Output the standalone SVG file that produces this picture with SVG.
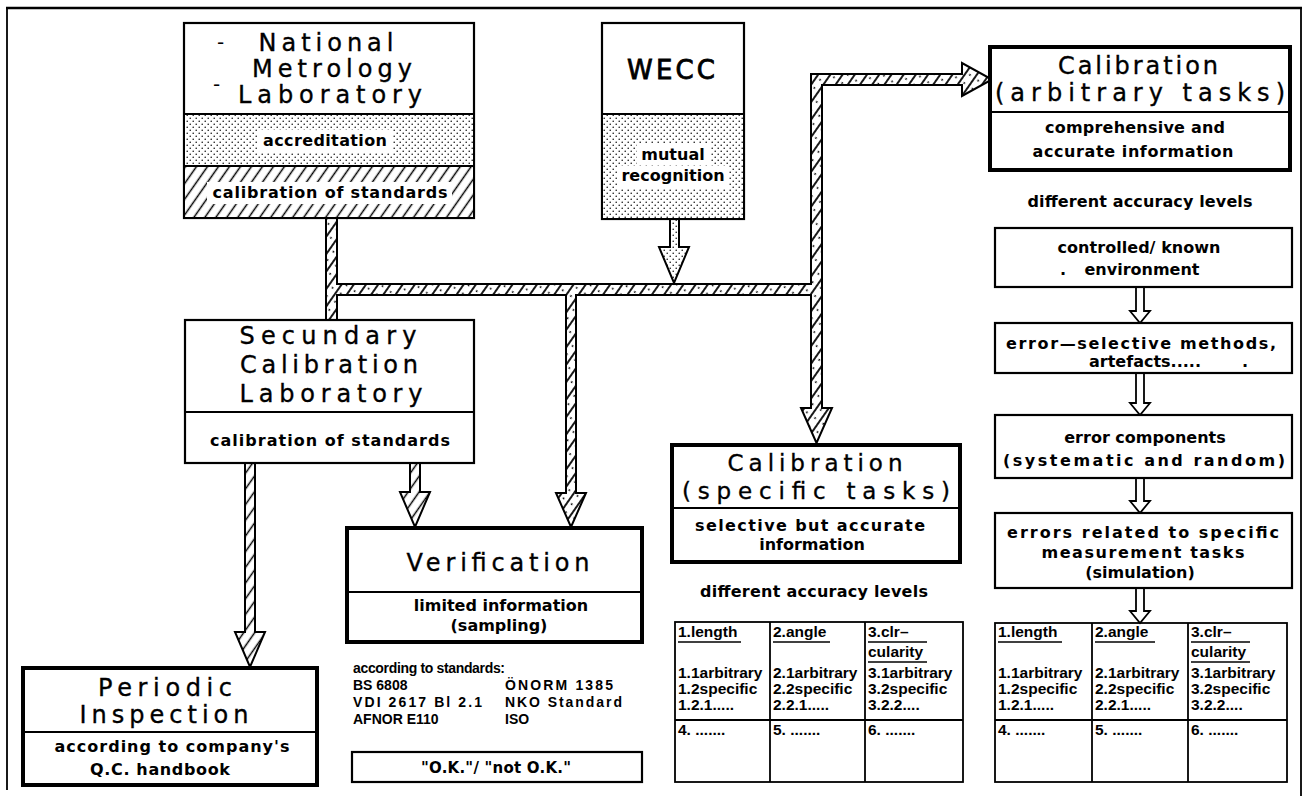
<svg xmlns="http://www.w3.org/2000/svg" width="1313" height="796" viewBox="0 0 1313 796">
<defs>
<pattern id="dots" patternUnits="userSpaceOnUse" width="6" height="6"><rect width="6" height="6" fill="#fff"/><circle cx="1.2" cy="1.2" r="0.75" fill="#000"/><circle cx="4.2" cy="4.2" r="0.75" fill="#000"/></pattern>
<pattern id="hatch" patternUnits="userSpaceOnUse" width="9" height="9" patternTransform="rotate(35)"><rect width="9" height="9" fill="#fff"/><line x1="4.5" y1="0" x2="4.5" y2="9" stroke="#000" stroke-width="1.5"/></pattern>
<pattern id="mix" patternUnits="userSpaceOnUse" width="10" height="10" patternTransform="rotate(35)"><rect width="10" height="10" fill="#fff"/><line x1="3" y1="0" x2="3" y2="10" stroke="#000" stroke-width="1.8"/><circle cx="7.5" cy="5" r="0.9" fill="#000"/></pattern>
<style>
text{font-family:"DejaVu Sans","Liberation Sans",Arial,sans-serif;fill:#000}
.ti{font-size:24px;text-anchor:middle;stroke:#000;stroke-width:0.35}
.wb{font-size:26px;text-anchor:middle;stroke:#000;stroke-width:0.8}
.s{font-size:16px;font-weight:bold;text-anchor:middle}
.tb{font-family:"Liberation Sans",Arial,sans-serif;font-size:15.5px;font-weight:bold}
.st{font-family:"Liberation Sans",Arial,sans-serif;font-size:14px;font-weight:bold}
.box{fill:#fff;stroke:#000;stroke-width:2.2}
.thick{fill:#fff;stroke:#000;stroke-width:4}
.ln{stroke:#000;stroke-width:2;fill:none}
.thin{stroke:#000;stroke-width:1.8;fill:none}
.ul{stroke:#000;stroke-width:1.5}
.bar{stroke:#000;stroke-width:2;stroke-linejoin:miter}
.sarrow{fill:#fff;stroke:#000;stroke-width:1.8}
</style>
</defs>
<rect width="1313" height="796" fill="#fff"/>

<g id="frame">
<line x1="6" y1="8" x2="1302" y2="8" stroke="#000" stroke-width="2.5"/>
<line x1="7" y1="8" x2="7" y2="790" stroke="#000" stroke-width="1.8"/>
<line x1="1301" y1="8" x2="1301" y2="796" stroke="#000" stroke-width="1.8"/>
</g>

<g id="connectors">
<path class="bar" fill="url(#mix)" d="M326,218 L337,218 L337,284 L811,284 L811,74 L962,74 L962,63 L992,79.5 L962,96 L962,85 L822,85 L822,408 L832,408 L816.5,443 L801,408 L811,408 L811,295 L576,295 L576,493 L586,493 L571,527 L556,493 L566,493 L566,295 L337,295 L337,320 L326,320 Z"/>
<path class="bar" fill="url(#dots)" d="M670,219 L679,219 L679,247 L689,247 L674,283 L659,247 L670,247 Z"/>
<path class="bar" fill="url(#hatch)" d="M245,463 L255,463 L255,632 L265,632 L250,667 L235,632 L245,632 Z"/>
<path class="bar" fill="url(#hatch)" d="M410,463 L420,463 L420,492 L430,492 L415,527 L400,492 L410,492 Z"/>
<path class="sarrow" d="M1136,287 L1144,287 L1144,311 L1150,311 L1140,323 L1130,311 L1136,311 Z"/>
<path class="sarrow" d="M1136,373 L1144,373 L1144,403 L1150,403 L1140,415 L1130,403 L1136,403 Z"/>
<path class="sarrow" d="M1136,478 L1144,478 L1144,501 L1150,501 L1140,513 L1130,501 L1136,501 Z"/>
<path class="sarrow" d="M1136,588 L1144,588 L1144,611 L1150,611 L1140,623 L1130,611 L1136,611 Z"/>
</g>

<g id="nml">
<rect x="184" y="23" width="290" height="195" class="box"/>
<rect x="184" y="114" width="290" height="52" fill="url(#dots)" stroke="#000" stroke-width="2"/>
<rect x="184" y="166" width="290" height="52" fill="url(#hatch)" stroke="#000" stroke-width="2"/>
<rect x="258" y="130" width="134" height="22" fill="#fff"/>
<rect x="207" y="182" width="245" height="22" fill="#fff"/>
<text x="217" y="49" style="font-size:20px">-</text>
<text x="213" y="91" style="font-size:20px">-</text>
<text class="ti" x="326" y="51" textLength="135" lengthAdjust="spacing">National</text>
<text class="ti" x="332" y="77" textLength="160" lengthAdjust="spacing">Metrology</text>
<text class="ti" x="330" y="103" textLength="184" lengthAdjust="spacing">Laboratory</text>
<text class="s" x="325" y="146" textLength="124" lengthAdjust="spacing">accreditation</text>
<text class="s" x="330" y="198" textLength="235" lengthAdjust="spacing">calibration of standards</text>
</g>

<g id="wecc">
<rect x="602" y="23" width="142" height="196" class="box"/>
<rect x="602" y="114" width="142" height="105" fill="url(#dots)" stroke="#000" stroke-width="2"/>
<rect x="637" y="144" width="73" height="21" fill="#fff"/>
<rect x="617" y="166" width="112" height="22" fill="#fff"/>
<text class="wb" x="671" y="79" textLength="88" lengthAdjust="spacing">WECC</text>
<text class="s" x="673" y="160">mutual</text>
<text class="s" x="673" y="181">recognition</text>
</g>

<g id="cal-arbitrary">
<rect x="990" y="47" width="300" height="123" class="thick"/>
<line x1="990" y1="112" x2="1290" y2="112" class="ln"/>
<text class="ti" x="1138" y="74" textLength="160" lengthAdjust="spacing">Calibration</text>
<text class="ti" x="1140" y="101" textLength="290" lengthAdjust="spacing">(arbitrary tasks)</text>
<text class="s" x="1135" y="133" textLength="180" lengthAdjust="spacing">comprehensive and</text>
<text class="s" x="1133" y="157" textLength="201" lengthAdjust="spacing">accurate information</text>
</g>
<text id="levels-arbitrary" class="s" x="1140" y="207" textLength="225" lengthAdjust="spacing">different accuracy levels</text>

<g id="env">
<rect x="995" y="228" width="297" height="59" class="box"/>
<text class="s" x="1139" y="253" textLength="163" lengthAdjust="spacing">controlled/ known</text>
<text class="s" x="1063" y="275">.</text>
<text class="s" x="1142" y="275">environment</text>
</g>
<g id="methods">
<rect x="995" y="323" width="297" height="50" class="box"/>
<text class="s" x="1141" y="349" textLength="270" lengthAdjust="spacing">error—selective methods,</text>
<text class="s" x="1145" y="367">artefacts.....</text>
<text class="s" x="1245" y="367">.</text>
</g>
<g id="components">
<rect x="995" y="415" width="297" height="63" class="box"/>
<text class="s" x="1145" y="443">error components</text>
<text class="s" x="1144" y="466" textLength="282" lengthAdjust="spacing">(systematic and random)</text>
</g>
<g id="related">
<rect x="995" y="513" width="297" height="75" class="box"/>
<text class="s" x="1143" y="538" textLength="272" lengthAdjust="spacing">errors related to specific</text>
<text class="s" x="1143" y="558" textLength="203" lengthAdjust="spacing">measurement tasks</text>
<text class="s" x="1140" y="578">(simulation)</text>
</g>

<g id="secundary">
<rect x="185" y="320" width="289" height="143" class="box"/>
<line x1="185" y1="412" x2="474" y2="412" class="ln"/>
<text class="ti" x="328" y="344" textLength="177" lengthAdjust="spacing">Secundary</text>
<text class="ti" x="329" y="373" textLength="178" lengthAdjust="spacing">Calibration</text>
<text class="ti" x="331" y="402" textLength="183" lengthAdjust="spacing">Laboratory</text>
<text class="s" x="330" y="446" textLength="240" lengthAdjust="spacing">calibration of standards</text>
</g>

<g id="cal-specific">
<rect x="672" y="445" width="288" height="117" class="thick"/>
<line x1="672" y1="508" x2="960" y2="508" class="ln"/>
<text class="ti" x="815" y="471" style="font-size:23px" textLength="175" lengthAdjust="spacing">Calibration</text>
<text class="ti" x="816" y="499" style="font-size:23px" textLength="268" lengthAdjust="spacing">(specific tasks)</text>
<text class="s" x="810" y="531" textLength="230" lengthAdjust="spacing">selective but accurate</text>
<text class="s" x="812" y="550">information</text>
</g>
<text id="levels-specific" class="s" x="814" y="597" textLength="228" lengthAdjust="spacing">different accuracy levels</text>

<g id="verification">
<rect x="347" y="528" width="295" height="114" class="thick"/>
<line x1="347" y1="592" x2="642" y2="592" class="ln"/>
<text class="ti" x="498" y="571" textLength="183" lengthAdjust="spacing">Verification</text>
<text class="s" x="501" y="611">limited information</text>
<text class="s" x="499" y="631">(sampling)</text>
</g>

<g id="standards">
<text class="st" x="353" y="673" textLength="152" lengthAdjust="spacing">according to standards:</text>
<text class="st" x="353" y="690">BS 6808</text>
<text class="st" x="353" y="707" textLength="129" lengthAdjust="spacing">VDI 2617 Bl 2.1</text>
<text class="st" x="353" y="724">AFNOR E110</text>
<text class="st" x="505" y="690" textLength="108" lengthAdjust="spacing">ÖNORM 1385</text>
<text class="st" x="505" y="707" textLength="117" lengthAdjust="spacing">NKO Standard</text>
<text class="st" x="505" y="724">ISO</text>
</g>

<g id="ok-box">
<rect x="352" y="752" width="290" height="30" class="box"/>
<text class="s" x="496" y="773" style="font-size:15px" textLength="150" lengthAdjust="spacing">"O.K."/ "not O.K."</text>
</g>

<g id="periodic">
<rect x="23" y="668" width="294" height="117" class="thick"/>
<line x1="23" y1="732" x2="317" y2="732" class="ln"/>
<text class="ti" x="165" y="696" textLength="134" lengthAdjust="spacing">Periodic</text>
<text class="ti" x="164" y="723" textLength="169" lengthAdjust="spacing">Inspection</text>
<text class="s" x="172" y="752" textLength="235" lengthAdjust="spacing">according to company's</text>
<text class="s" x="160" y="775" textLength="140" lengthAdjust="spacing">Q.C. handbook</text>
</g>

<g id="table-specific">
<rect x="675" y="622" width="288" height="160" class="thin"/>
<line x1="675" y1="720" x2="963" y2="720" class="thin"/>
<line x1="770" y1="622" x2="770" y2="782" class="thin"/>
<line x1="865" y1="622" x2="865" y2="782" class="thin"/>
<text class="tb" x="678" y="637">1.length</text>
<line x1="678" y1="642" x2="741" y2="642" class="ul"/>
<text class="tb" x="678" y="678">1.1arbitrary</text>
<text class="tb" x="678" y="694">1.2specific</text>
<text class="tb" x="678" y="710">1.2.1.....</text>
<text class="tb" x="678" y="735">4. .......</text>
<text class="tb" x="773" y="637">2.angle</text>
<line x1="773" y1="642" x2="830" y2="642" class="ul"/>
<text class="tb" x="773" y="678">2.1arbitrary</text>
<text class="tb" x="773" y="694">2.2specific</text>
<text class="tb" x="773" y="710">2.2.1.....</text>
<text class="tb" x="773" y="735">5. .......</text>
<text class="tb" x="868" y="637">3.clr–</text>
<line x1="868" y1="642" x2="927" y2="642" class="ul"/>
<text class="tb" x="868" y="657">cularity</text>
<line x1="868" y1="662" x2="927" y2="662" class="ul"/>
<text class="tb" x="868" y="678">3.1arbitrary</text>
<text class="tb" x="868" y="694">3.2specific</text>
<text class="tb" x="868" y="710">3.2.2....</text>
<text class="tb" x="868" y="735">6. .......</text>
</g>

<g id="table-arbitrary">
<rect x="995" y="623" width="292" height="159" class="thin"/>
<line x1="995" y1="720" x2="1287" y2="720" class="thin"/>
<line x1="1092" y1="623" x2="1092" y2="782" class="thin"/>
<line x1="1188" y1="623" x2="1188" y2="782" class="thin"/>
<text class="tb" x="998" y="637">1.length</text>
<line x1="998" y1="642" x2="1062" y2="642" class="ul"/>
<text class="tb" x="998" y="678">1.1arbitrary</text>
<text class="tb" x="998" y="694">1.2specific</text>
<text class="tb" x="998" y="710">1.2.1.....</text>
<text class="tb" x="998" y="735">4. .......</text>
<text class="tb" x="1095" y="637">2.angle</text>
<line x1="1095" y1="642" x2="1155" y2="642" class="ul"/>
<text class="tb" x="1095" y="678">2.1arbitrary</text>
<text class="tb" x="1095" y="694">2.2specific</text>
<text class="tb" x="1095" y="710">2.2.1.....</text>
<text class="tb" x="1095" y="735">5. .......</text>
<text class="tb" x="1191" y="637">3.clr–</text>
<line x1="1191" y1="642" x2="1250" y2="642" class="ul"/>
<text class="tb" x="1191" y="657">cularity</text>
<line x1="1191" y1="662" x2="1250" y2="662" class="ul"/>
<text class="tb" x="1191" y="678">3.1arbitrary</text>
<text class="tb" x="1191" y="694">3.2specific</text>
<text class="tb" x="1191" y="710">3.2.2....</text>
<text class="tb" x="1191" y="735">6. .......</text>
</g>
</svg>
